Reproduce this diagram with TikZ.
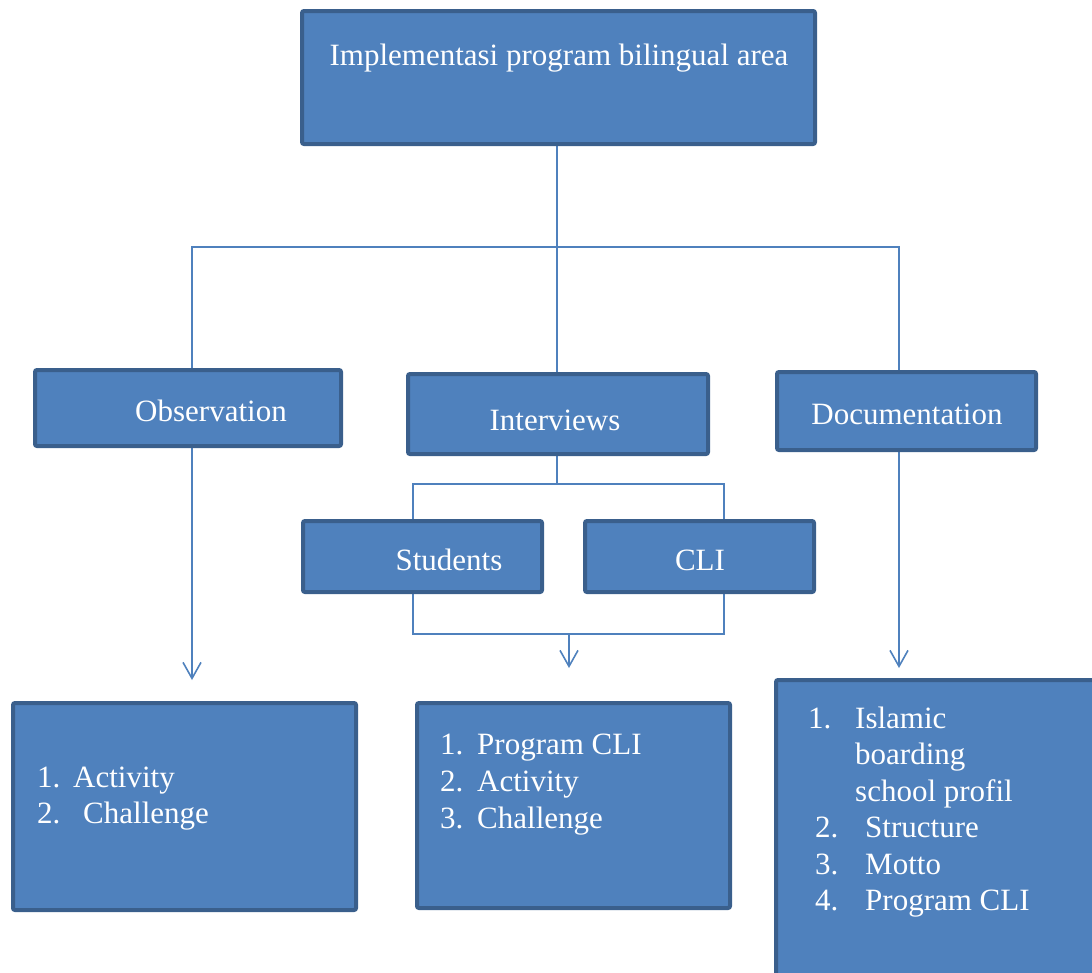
\documentclass[tikz,border=0pt]{standalone}
\usepackage{fontspec}
\setmainfont{Liberation Serif}
\usetikzlibrary{arrows.meta}
\definecolor{boxfill}{HTML}{4F81BD}
\definecolor{boxline}{HTML}{3A5F8C}
\definecolor{conncol}{HTML}{4F81BD}
\pgfdeclarelayer{bg}
\pgfsetlayers{bg,main}
\begin{document}
\begin{tikzpicture}[x=1pt,y=-1pt,
 box/.style={draw=boxline, fill=boxfill, line width=4pt, rounded corners=2pt, inner sep=0pt},
 conn/.style={draw=conncol, line width=1.6pt},
 arr/.style={conn, -{Straight Barb[length=16pt,width=18pt]}},
 txt/.style={text=white, font=\fontsize{31}{37}\selectfont, inner sep=0pt},
]
\useasboundingbox (0,0) rectangle (1092,972);
\clip (0,0) rectangle (1092,972);

% boxes
\node[box, minimum width=513pt, minimum height=133pt] (top) at (558.5,77.5) {};
\node[box, minimum width=306pt, minimum height=76pt] (obs) at (188,408) {};
\node[box, minimum width=300pt, minimum height=80pt] (int) at (558,414) {};
\node[box, minimum width=259pt, minimum height=78pt] (doc) at (906.5,411) {};
\node[box, minimum width=239pt, minimum height=71pt] (stu) at (422.5,556.5) {};
\node[box, minimum width=229pt, minimum height=71pt] (cli) at (699.5,556.5) {};
\node[box, minimum width=343pt, minimum height=207pt] (bl) at (184.5,806.5) {};
\node[box, minimum width=313pt, minimum height=205pt] (bm) at (573.5,805.5) {};
\node[box, minimum width=332pt, minimum height=318pt] (br) at (942,839) {};

% connectors
\coordinate (hub) at (557,247);
\coordinate (xo) at (192,0);
\coordinate (xd) at (899,0);
\coordinate (ao) at (192,680);
\coordinate (ib) at (557,484);
\coordinate (xs) at (413,0);
\coordinate (xc) at (724,0);
\coordinate (bb) at (569,634);
\coordinate (am) at (569,668);
\coordinate (ad) at (899,668);
\begin{pgfonlayer}{bg}
\draw[conn] (top.south -| hub) -- (int.north -| hub);
\draw[conn] (obs.north -| xo) |- (hub) -| (doc.north -| xd);
\draw[arr] (obs.south -| ao) -- (ao);
\draw[conn] (int.south -| ib) -- (ib);
\draw[conn] (stu.north -| xs) |- (ib) -| (cli.north -| xc);
\draw[conn] (stu.south -| xs) -- (xs |- bb) -- (xc |- bb) -- (cli.south -| xc);
\draw[arr] (bb) -- (am);
\draw[arr] (doc.south -| ad) -- (ad);
\end{pgfonlayer}

% texts
\node[txt, anchor=base] (ttop) at (559,65) {Implementasi program bilingual area};
\node[txt, anchor=base] (tobs) at (211,421) {Observation};
\node[txt, anchor=base] (tint) at (555,430) {Interviews};
\node[txt, anchor=base] (tdoc) at (907,424) {Documentation};
\node[txt, anchor=base] (tstu) at (449,570) {Students};
\node[txt, anchor=base] (tcli) at (700,570) {CLI};

\node[txt, anchor=base west] (bl1n) at (37,787) {1.};
\node[txt, anchor=base west] (bl1) at (73,787) {Activity};
\node[txt, anchor=base west] (bl2n) at (37,823) {2.};
\node[txt, anchor=base west] (bl2) at (83,823) {Challenge};

\node[txt, anchor=base west] (bm1n) at (440,754) {1.};
\node[txt, anchor=base west] (bm1) at (477,754) {Program CLI};
\node[txt, anchor=base west] (bm2n) at (440,791) {2.};
\node[txt, anchor=base west] (bm2) at (477,791) {Activity};
\node[txt, anchor=base west] (bm3n) at (440,828) {3.};
\node[txt, anchor=base west] (bm3) at (477,828) {Challenge};

\node[txt, anchor=base west] (br1n) at (808,728) {1.};
\node[txt, anchor=base west] (br1a) at (855,728) {Islamic};
\node[txt, anchor=base west] (br1b) at (855,764) {boarding};
\node[txt, anchor=base west] (br1c) at (855,801) {school profil};
\node[txt, anchor=base west] (br2n) at (815,837) {2.};
\node[txt, anchor=base west] (br2) at (865,837) {Structure};
\node[txt, anchor=base west] (br3n) at (815,874) {3.};
\node[txt, anchor=base west] (br3) at (865,874) {Motto};
\node[txt, anchor=base west] (br4n) at (815,910) {4.};
\node[txt, anchor=base west] (br4) at (865,910) {Program CLI};
\end{tikzpicture}
\end{document}
